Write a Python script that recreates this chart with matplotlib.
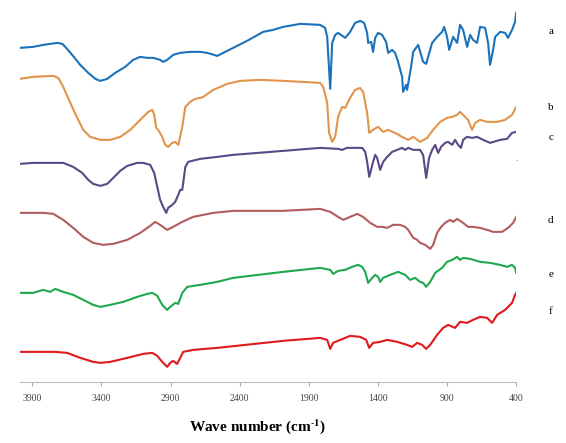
import numpy as np
import matplotlib.pyplot as plt

# FTIR spectra (arbitrary stacked transmittance units)
wn_a = [3990, 3893, 3820, 3719, 3683, 3661, 3611, 3553, 3495, 3444, 3408, 3358, 3300, 3228,
        3170, 3119, 3068, 3025, 2975, 2953, 2924, 2881, 2830, 2758, 2685, 2635, 2562, 2519,
        2447, 2346, 2230, 2158, 2085, 1962, 1818, 1782, 1767, 1745, 1731, 1709, 1688, 1637,
        1601, 1565, 1529, 1500, 1478, 1471, 1449, 1435, 1420, 1399, 1370, 1341, 1326, 1297,
        1276, 1254, 1225, 1218, 1196, 1189, 1160, 1145, 1109, 1073, 1051, 1037, 1008, 972,
        936, 921, 900, 885, 856, 827, 806, 784, 755, 733, 712, 683, 661, 625, 603, 589,
        567, 552, 516, 480, 459, 430, 408, 400]
tr_a = [334, 335, 337, 339, 338, 335, 327, 317, 309, 303, 301, 303, 309, 315,
        322, 325, 324, 324, 322, 320, 322, 327, 329, 330, 330, 329, 326, 329,
        334, 341, 350, 352, 355, 358, 357, 354, 345, 293, 339, 347, 349, 344,
        350, 359, 361, 359, 349, 339, 340, 330, 344, 349, 347, 340, 329, 332,
        329, 320, 305, 290, 297, 292, 315, 330, 337, 320, 318, 325, 339, 345,
        350, 355, 345, 332, 345, 339, 357, 352, 335, 347, 342, 339, 355, 354, 339, 317,
        332, 345, 350, 349, 344, 352, 360, 369]

wn_b = [3990, 3893, 3748, 3712, 3676, 3625, 3575, 3531, 3481, 3408, 3336, 3264, 3191, 3119,
        3061, 3032, 3018, 3003, 2989, 2960, 2938, 2917, 2888, 2866, 2844, 2815, 2793, 2758,
        2722, 2685, 2664, 2591, 2490, 2396, 2251, 2085, 1818, 1796, 1767, 1753, 1731, 1709,
        1688, 1659, 1637, 1601, 1565, 1529, 1507, 1478, 1463, 1435, 1399, 1362, 1326, 1276,
        1225, 1181, 1145, 1095, 1044, 1001, 950, 900, 863, 827, 806, 784, 748, 719,
        697, 661, 610, 538, 480, 430, 400]
tr_b = [303, 305, 306, 304, 295, 279, 264, 252, 245, 242, 242, 245, 252, 262,
        270, 272, 267, 254, 252, 245, 237, 235, 239, 240, 237, 255, 275, 280,
        283, 284, 285, 292, 298, 301, 302, 301, 299, 295, 279, 249, 240, 245,
        265, 275, 274, 284, 292, 294, 290, 269, 249, 252, 255, 250, 252, 249,
        245, 242, 245, 240, 244, 252, 260, 264, 265, 267, 270, 267, 262, 252,
        259, 262, 260, 260, 262, 267, 275]

wn_c = [3990, 3893, 3748, 3676, 3604, 3539, 3495, 3459, 3408, 3358, 3314, 3264, 3213, 3141,
        3097, 3047, 3018, 2996, 2975, 2953, 2931, 2917, 2888, 2866, 2844, 2830, 2815, 2793,
        2772, 2685, 2562, 2447, 2085, 1818, 1688, 1659, 1623, 1514, 1492, 1478, 1463, 1435,
        1420, 1406, 1384, 1362, 1333, 1297, 1261, 1225, 1203, 1181, 1145, 1095, 1073, 1051,
        1030, 1008, 986, 964, 943, 914, 892, 863, 842, 820, 799, 784, 755, 719,
        683, 639, 589, 516, 466, 430, 400]
tr_c = [218, 219, 219, 219, 215, 209, 202, 198, 196, 198, 204, 211, 216, 219,
        219, 217, 209, 195, 182, 175, 169, 174, 177, 180, 187, 192, 192, 215,
        220, 223, 225, 227, 231, 234, 233, 232, 234, 234, 230, 220, 205, 220,
        227, 224, 212, 220, 225, 230, 232, 234, 232, 234, 232, 232, 227, 204,
        224, 232, 237, 229, 235, 239, 240, 237, 242, 237, 234, 242, 245, 244,
        245, 242, 239, 242, 243, 249, 250]

wn_d = [3990, 3820, 3748, 3676, 3604, 3531, 3459, 3387, 3314, 3213, 3119, 3047, 3011, 2975,
        2924, 2881, 2815, 2736, 2591, 2447, 2085, 1818, 1745, 1688, 1651, 1601, 1550, 1507,
        1456, 1406, 1370, 1333, 1290, 1239, 1203, 1181, 1145, 1116, 1095, 1058, 1022, 1001,
        972, 943, 914, 878, 856, 827, 784, 748, 712, 661, 610, 567, 502, 459, 422, 400]
tr_d = [169, 169, 168, 162, 154, 145, 139, 137, 138, 142, 149, 156, 160, 157,
        152, 155, 160, 165, 169, 171, 171, 173, 170, 165, 162, 165, 168, 165,
        159, 155, 155, 154, 157, 157, 155, 152, 144, 142, 139, 137, 133, 137,
        149, 155, 159, 162, 160, 163, 159, 155, 155, 154, 152, 150, 150, 154, 159, 165]

wn_e = [3990, 3893, 3820, 3770, 3734, 3676, 3604, 3531, 3459, 3408, 3336, 3242, 3141, 3068,
        3032, 2996, 2960, 2924, 2902, 2866, 2844, 2815, 2779, 2685, 2562, 2447, 2085, 1818,
        1745, 1724, 1688, 1637, 1587, 1543, 1514, 1492, 1471, 1442, 1420, 1399, 1384, 1362,
        1312, 1254, 1203, 1167, 1131, 1095, 1073, 1051, 1022, 986, 936, 900, 863, 827,
        806, 784, 733, 661, 589, 516, 466, 430, 408, 400]
tr_e = [89, 89, 92, 90, 93, 90, 87, 82, 77, 75, 77, 80, 85, 88,
        89, 86, 77, 72, 75, 79, 78, 89, 95, 97, 100, 104, 110, 114,
        112, 108, 111, 112, 115, 117, 115, 110, 99, 104, 107, 105, 100, 104,
        107, 110, 107, 102, 104, 100, 99, 95, 100, 109, 114, 120, 122, 125,
        122, 124, 123, 120, 119, 117, 115, 117, 114, 109]

wn_f = [3990, 3893, 3734, 3647, 3553, 3459, 3408, 3336, 3213, 3097, 3032, 2996, 2960, 2924,
        2902, 2881, 2852, 2830, 2808, 2736, 2562, 2085, 1818, 1767, 1745, 1724, 1673, 1601,
        1529, 1485, 1463, 1435, 1384, 1333, 1261, 1189, 1152, 1116, 1080, 1051, 1022, 972,
        928, 892, 842, 806, 755, 712, 661, 610, 574, 538, 480, 430, 408, 400]
tr_f = [30, 30, 30, 29, 24, 20, 19, 20, 24, 28, 29, 26, 20, 15,
        19, 21, 18, 24, 30, 32, 34, 41, 44, 42, 33, 39, 42, 46,
        45, 42, 34, 39, 40, 42, 40, 37, 35, 39, 37, 33, 37, 47,
        54, 57, 54, 60, 59, 62, 65, 64, 59, 67, 72, 79, 87, 89]

spectra = [(wn_a, tr_a, '#1a72bd', 'a'),
           (wn_b, tr_b, '#e3944b', 'b'),
           (wn_c, tr_c, '#5a4886', 'c'),
           (wn_d, tr_d, '#b25c5e', 'd'),
           (wn_e, tr_e, '#20a84e', 'e'),
           (wn_f, tr_f, '#e0191b', 'f')]
label_y = [350, 274, 244, 161, 107, 70]

xticks = [3900, 3400, 2900, 2400, 1900, 1400, 900, 400]

fig = plt.figure(figsize=(5.66, 4.43), dpi=100)
ax = fig.add_axes([0.035, 0.138, 0.877, 0.851])

for (wn, tr, col, lab), ly in zip(spectra, label_y):
    ax.plot(wn, tr, color=col, lw=1.5, solid_joinstyle='round')
    ax.annotate(lab, xy=(1.0, ly), xycoords=('axes fraction', 'data'),
                xytext=(25, 0), textcoords='offset points', ha='center', va='center',
                fontsize=8, family='Liberation Serif')

# stray dot next to trace c in the original
ax.text(400, 219, '.', ha='center', va='bottom', fontsize=6, color='#666666')

ax.set_xlim(3990, 400)
ax.set_ylim(0, 377)
ax.set_xticks(xticks)
ax.set_xticklabels([str(t) for t in xticks], family='Liberation Serif', fontsize=7, color='#444444')
ax.tick_params(axis='x', length=3, color='#aaaaaa', pad=6)
ax.set_yticks([])
for s in ['top', 'right', 'left']:
    ax.spines[s].set_visible(False)
ax.spines['bottom'].set_color('#bbbbbb')

plt.rcParams['mathtext.fontset'] = 'stix'
fig.text(0.455, 0.038, r'Wave number (cm$^{\text{-}\mathbf{1}}$)', ha='center', va='center',
         fontsize=11, fontweight='bold', family='Liberation Serif')

fig.savefig('out.png', dpi=100)
